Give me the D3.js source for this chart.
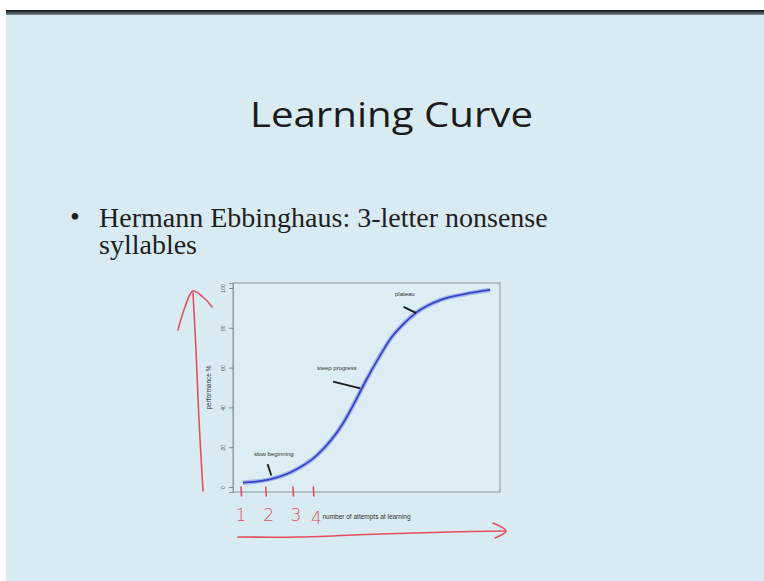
<!DOCTYPE html>
<html>
<head>
<meta charset="utf-8">
<script src="https://cdn.jsdelivr.net/npm/d3@7"></script>
<style>
  body { margin: 0; background: #fff; }
  svg { display: block; }
</style>
</head>
<body>
<div id="slide"></div>
<script>
// curve: attempts -> performance %
let attempts = [0, 2, 4, 6, 8, 9, 10, 11, 12, 13, 14, 16, 18, 20];
let performance = [2.2, 3.6, 7.8, 16, 31, 42, 54, 65, 75, 82, 87.5, 94, 97, 99];

let yTicks = [0, 20, 40, 60, 80, 100];

// notes written on the plot: label, text position, pointer start, pointer end
let noteLabels = ["slow beginning", "steep progress", "plateau"];
let noteText = [[2.5, 15.5], [7.6, 59], [13.1, 96]];
let noteFrom = [[2.0, 11.5], [7.3, 53], [13.0, 90.5]];
let noteTo = [[2.3, 5.8], [9.5, 49.5], [14.0, 87.5]];

// red pen marks under the x axis
let penTicks = [-0.15, 1.85, 4.05, 5.7];
let penNumbers = ["1", "2", "3", "4"];

let W = 764, H = 581;
let box = {left: 233, right: 500, top: 283, bottom: 492};

let svg = d3.select("#slide").append("svg")
    .attr("width", W)
    .attr("height", H);

// slide background + top bar
svg.append("rect").attr("x", 6).attr("y", 14).attr("width", W - 6).attr("height", H - 14)
    .attr("fill", "#d8eaf2");
let grad = svg.append("defs").append("linearGradient")
    .attr("id", "bar").attr("x1", 0).attr("x2", 0).attr("y1", 0).attr("y2", 1);
grad.append("stop").attr("offset", "0%").attr("stop-color", "#05080c");
grad.append("stop").attr("offset", "100%").attr("stop-color", "#7d8f99");
svg.append("rect").attr("x", 6).attr("y", 10).attr("width", W - 6).attr("height", 5)
    .attr("fill", "url(#bar)");

svg.append("text")
    .attr("x", 250).attr("y", 127)
    .attr("font-family", "Open Sans")
    .attr("font-size", 34)
    .attr("textLength", 283)
    .attr("lengthAdjust", "spacingAndGlyphs")
    .attr("fill", "#1b1b1b")
    .text("Learning Curve");

let bullet = svg.append("text")
    .attr("font-family", "Liberation Serif")
    .attr("font-size", 28)
    .attr("fill", "#1e1e1e");
bullet.append("tspan").attr("x", 70).attr("y", 226).text("•");
bullet.append("tspan").attr("x", 99).attr("y", 227).text("Hermann Ebbinghaus: 3-letter nonsense");
bullet.append("tspan").attr("x", 99).attr("y", 254).text("syllables");

// the plot
let x = d3.scaleLinear().domain([-0.8, 20.8]).range([box.left, box.right]);
let y = d3.scaleLinear().domain([-2.5, 102.5]).range([box.bottom, box.top]);

let plot = svg.append("g");

plot.append("rect")
    .attr("x", box.left).attr("y", box.top)
    .attr("width", box.right - box.left).attr("height", box.bottom - box.top)
    .attr("fill", "#dcedf4")
    .attr("stroke", "#8d979c")
    .attr("stroke-width", 1);

let yAxis = plot.append("g")
    .attr("transform", `translate(${box.left},0)`)
    .call(d3.axisLeft(y).tickValues(yTicks).tickSize(4).tickPadding(4));
yAxis.select(".domain").attr("stroke", "#8d979c");
yAxis.selectAll(".tick line").attr("stroke", "#7d878c");
yAxis.selectAll(".tick text")
    .attr("font-size", 5)
    .attr("fill", "#555")
    .attr("transform", "rotate(-90)")
    .attr("x", 0).attr("dy", 0).attr("y", -8)
    .attr("text-anchor", "middle");

plot.append("text")
    .attr("transform", `translate(211,${(box.top + box.bottom) / 2}) rotate(-90)`)
    .attr("text-anchor", "middle")
    .attr("font-family", "Liberation Sans")
    .attr("font-size", 6.5)
    .attr("fill", "#333")
    .text("performance %");

plot.append("text")
    .attr("x", (box.left + box.right) / 2).attr("y", 519)
    .attr("text-anchor", "middle")
    .attr("font-family", "Liberation Sans")
    .attr("font-size", 6.5)
    .attr("fill", "#333")
    .text("number of attempts at learning");

let pts = attempts.map((a, i) => [a, performance[i]]);
let line = d3.line().x(d => x(d[0])).y(d => y(d[1])).curve(d3.curveMonotoneX);

plot.append("path").datum(pts)
    .attr("d", line).attr("fill", "none")
    .attr("stroke", "#a7b5ee").attr("stroke-width", 4.5);
plot.append("path").datum(pts)
    .attr("d", line).attr("fill", "none")
    .attr("stroke", "#3344c4").attr("stroke-width", 1.8);

noteLabels.forEach((lab, i) => {
  plot.append("text")
      .attr("x", x(noteText[i][0])).attr("y", y(noteText[i][1]))
      .attr("text-anchor", "middle")
      .attr("font-family", "Liberation Sans")
      .attr("font-size", 6)
      .attr("fill", "#333")
      .text(lab);
  plot.append("line")
      .attr("x1", x(noteFrom[i][0])).attr("y1", y(noteFrom[i][1]))
      .attr("x2", x(noteTo[i][0])).attr("y2", y(noteTo[i][1]))
      .attr("stroke", "#1a1a1a").attr("stroke-width", 1.8);
});

// red pen
let pen = svg.append("g")
    .attr("fill", "none")
    .attr("stroke", "#e0505c")
    .attr("stroke-width", 1.6)
    .attr("stroke-linecap", "round")
    .attr("stroke-linejoin", "round");

let penLine = d3.line().curve(d3.curveCatmullRom);

// arrow up along y axis
pen.append("path").attr("d", penLine([[203, 491], [199, 420], [196, 350], [193, 293]]));
pen.append("path").attr("d", penLine([[178, 330], [185, 307], [193, 291], [203, 297], [212, 307]]));

// arrow along x axis
pen.append("path").attr("d", penLine([[238, 537], [300, 537], [380, 534], [450, 532], [506, 531]]));
pen.append("path").attr("d", penLine([[493, 523], [506, 531], [495, 538]]));

penTicks.forEach(t => {
  pen.append("line")
      .attr("x1", x(t)).attr("x2", x(t) + 0.5)
      .attr("y1", 487).attr("y2", 496);
});

penNumbers.forEach((n, i) => {
  svg.append("text")
      .attr("x", x(penTicks[i]) + (i == 0 ? 0 : 3)).attr("y", 521 + (i == 3 ? 3 : 0))
      .attr("text-anchor", "middle")
      .attr("font-family", "DejaVu Sans")
      .attr("font-weight", 300)
      .attr("font-size", 17)
      .attr("fill", "#e0505c")
      .text(n);
});
</script>
</body>
</html>
